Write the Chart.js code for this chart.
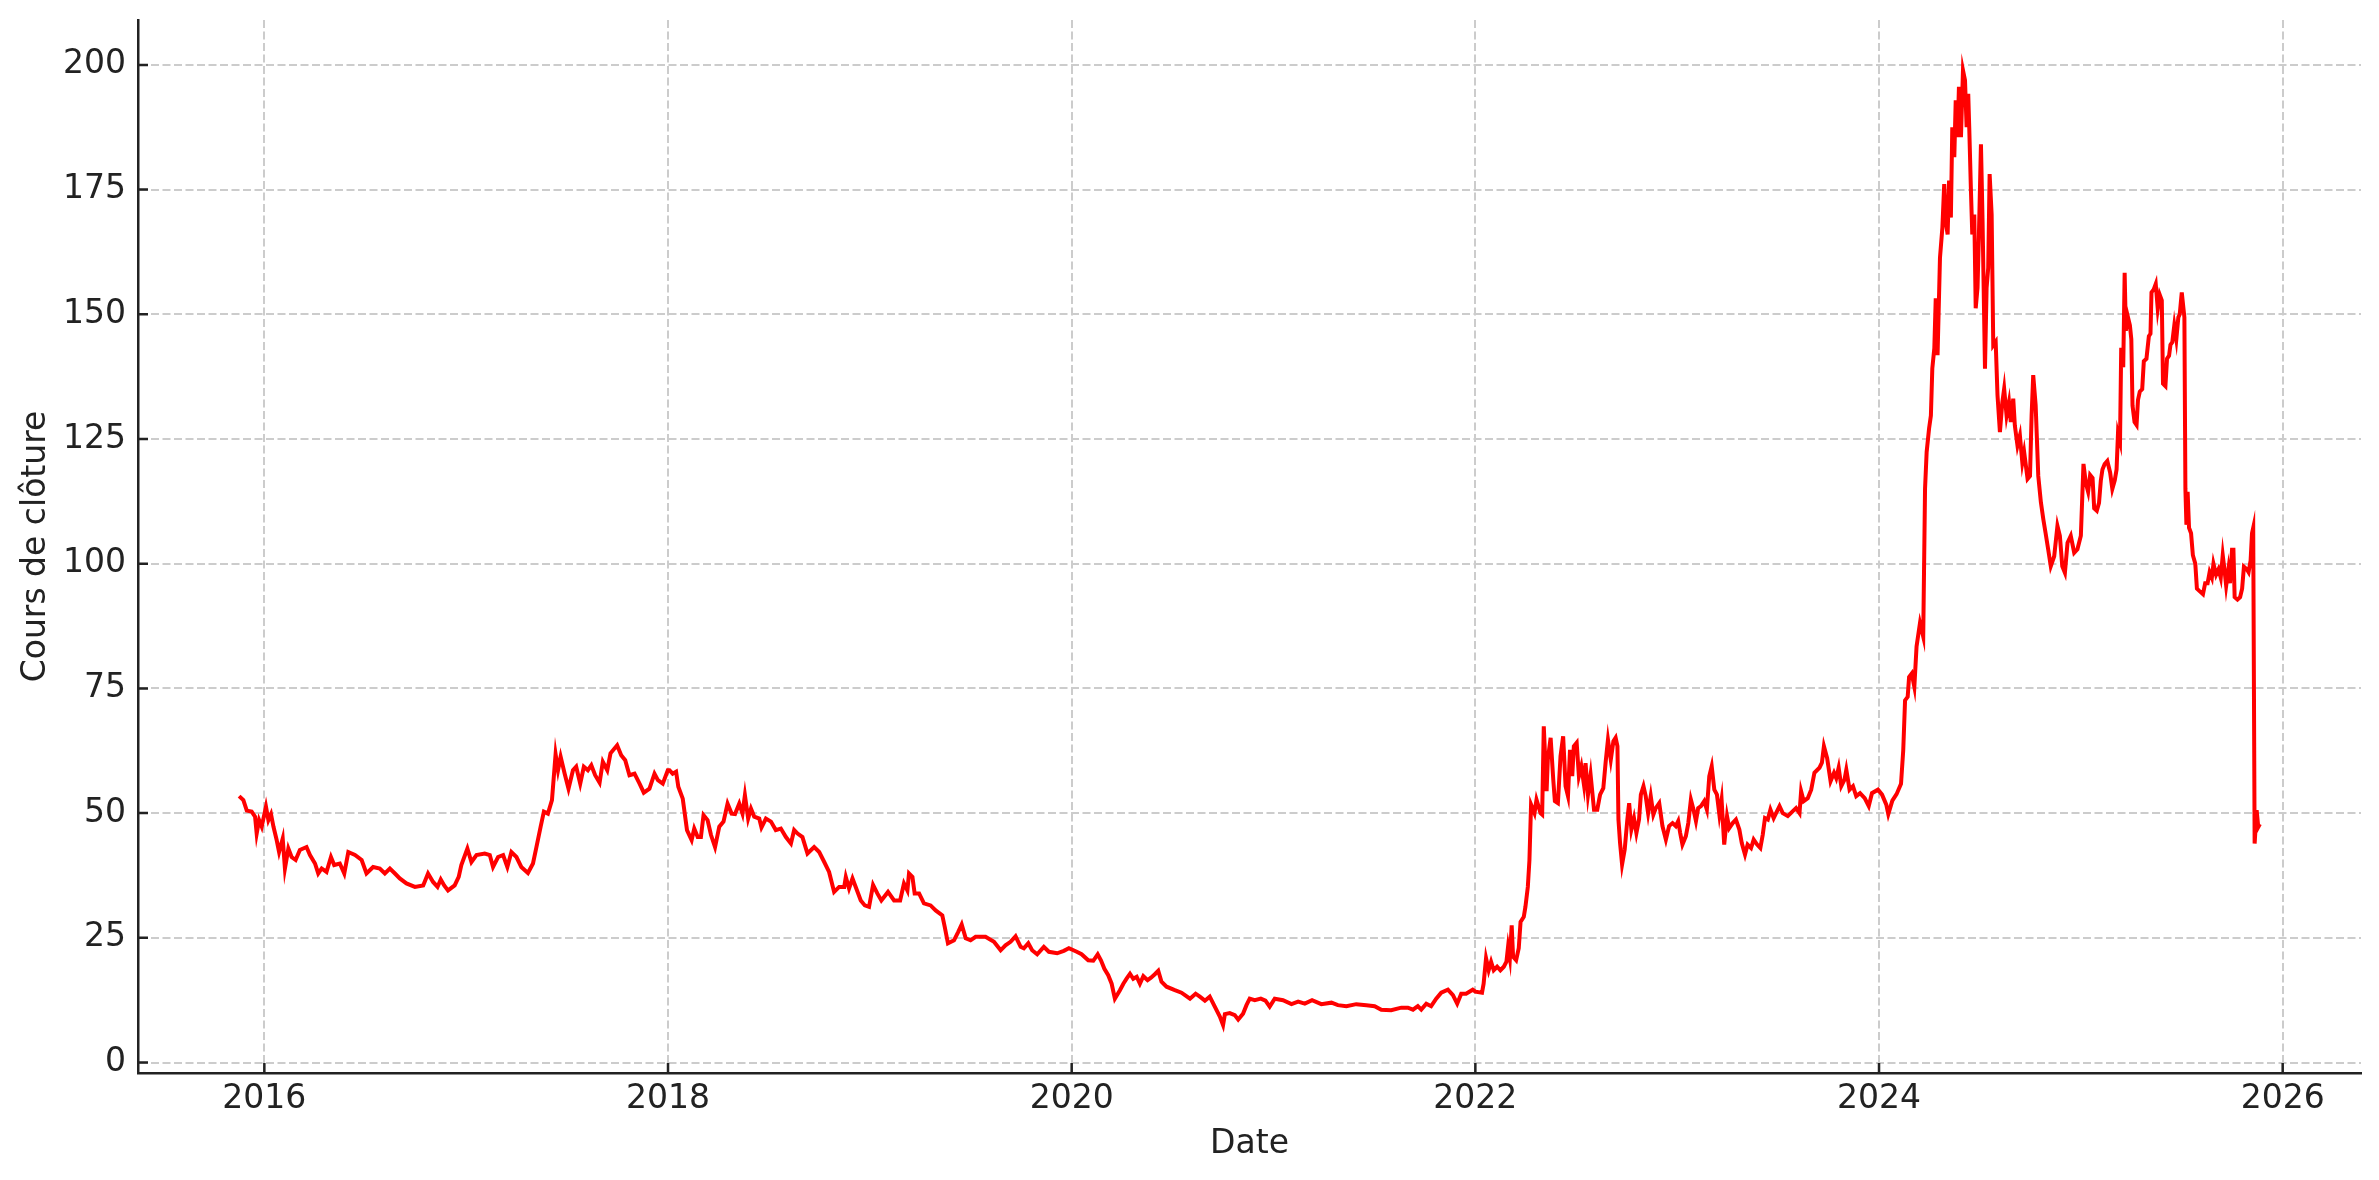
<!DOCTYPE html>
<html>
<head>
<meta charset="utf-8">
<script src="https://cdn.jsdelivr.net/npm/chart.js@4.4.1/dist/chart.umd.min.js"></script>
<style>
  html, body { margin: 0; padding: 0; background: #fff; }
  #wrap { width: 2379px; height: 1180px; }
</style>
</head>
<body>
<div id="wrap"><canvas id="chart"></canvas></div>
<script>
// dates as decimal years, closing price
const dates = [
  2015.875, 2015.896, 2015.913, 2015.937, 2015.954, 2015.962, 2015.974, 2015.987, 2016.008, 2016.020,
  2016.033, 2016.045, 2016.061, 2016.073, 2016.091, 2016.102, 2016.119, 2016.135, 2016.155, 2016.176,
  2016.209, 2016.226, 2016.251, 2016.267, 2016.284, 2016.308, 2016.330, 2016.346, 2016.374, 2016.396,
  2016.416, 2016.449, 2016.482, 2016.506, 2016.539, 2016.572, 2016.597, 2016.622, 2016.647, 2016.671,
  2016.704, 2016.746, 2016.787, 2016.811, 2016.836, 2016.858, 2016.874, 2016.891, 2016.910, 2016.943,
  2016.963, 2016.976, 2017.006, 2017.026, 2017.051, 2017.092, 2017.117, 2017.133, 2017.158, 2017.183,
  2017.204, 2017.224, 2017.249, 2017.273, 2017.306, 2017.331, 2017.348, 2017.369, 2017.385, 2017.405,
  2017.425, 2017.443, 2017.455, 2017.468, 2017.488, 2017.507, 2017.529, 2017.545, 2017.565, 2017.583,
  2017.603, 2017.620, 2017.639, 2017.661, 2017.677, 2017.699, 2017.715, 2017.748, 2017.768, 2017.788,
  2017.809, 2017.834, 2017.859, 2017.880, 2017.908, 2017.933, 2017.950, 2017.974, 2017.999,
  2018.007, 2018.023, 2018.040, 2018.051, 2018.073, 2018.094, 2018.117, 2018.130, 2018.147, 2018.163,
  2018.176, 2018.196, 2018.213, 2018.233, 2018.254, 2018.275, 2018.295, 2018.315, 2018.332, 2018.353,
  2018.369, 2018.381, 2018.397, 2018.411, 2018.427, 2018.452, 2018.463, 2018.485, 2018.510, 2018.534,
  2018.559, 2018.584, 2018.609, 2018.625, 2018.642, 2018.666, 2018.691, 2018.724, 2018.749, 2018.774,
  2018.798, 2018.823, 2018.848, 2018.873, 2018.881, 2018.897, 2018.914, 2018.930, 2018.955, 2018.975,
  2018.996, 2019.016, 2019.037, 2019.057, 2019.090, 2019.120, 2019.150, 2019.169, 2019.186, 2019.194,
  2019.211, 2019.222, 2019.244, 2019.268, 2019.301, 2019.326, 2019.359, 2019.371, 2019.387, 2019.417,
  2019.438, 2019.455, 2019.475, 2019.499, 2019.524, 2019.573, 2019.615, 2019.648, 2019.672, 2019.697,
  2019.722, 2019.747, 2019.763, 2019.785, 2019.804, 2019.829, 2019.862, 2019.887, 2019.928, 2019.961,
  2019.986,
  2020.025, 2020.049, 2020.082, 2020.107, 2020.129, 2020.145, 2020.162, 2020.181, 2020.198, 2020.214,
  2020.239, 2020.256, 2020.272, 2020.289, 2020.305, 2020.322, 2020.338, 2020.355, 2020.376, 2020.393,
  2020.412, 2020.429, 2020.445, 2020.470, 2020.511, 2020.544, 2020.586, 2020.614, 2020.635, 2020.660,
  2020.684, 2020.709, 2020.734, 2020.750, 2020.759, 2020.783, 2020.808, 2020.825, 2020.849, 2020.866,
  2020.882, 2020.907, 2020.937, 2020.960, 2020.981, 2021.006, 2021.047, 2021.089, 2021.122, 2021.155,
  2021.191, 2021.237, 2021.287, 2021.319, 2021.361, 2021.410, 2021.460, 2021.501, 2021.534, 2021.583,
  2021.633, 2021.666, 2021.691, 2021.715, 2021.732, 2021.757, 2021.781, 2021.806, 2021.831, 2021.864,
  2021.889, 2021.910, 2021.930, 2021.954, 2021.987,
  2022.000, 2022.033, 2022.041, 2022.053, 2022.066, 2022.078, 2022.091, 2022.108, 2022.124, 2022.141,
  2022.154, 2022.162, 2022.171, 2022.180, 2022.187, 2022.202, 2022.215, 2022.224, 2022.240, 2022.248,
  2022.260, 2022.268, 2022.276, 2022.293, 2022.303, 2022.323, 2022.331, 2022.339, 2022.353, 2022.359,
  2022.373, 2022.386, 2022.394, 2022.409, 2022.422, 2022.435, 2022.447, 2022.459, 2022.469, 2022.480,
  2022.488, 2022.502, 2022.513, 2022.525, 2022.538, 2022.546, 2022.558, 2022.571, 2022.588, 2022.604,
  2022.618, 2022.634, 2022.646, 2022.657, 2022.671, 2022.684, 2022.695, 2022.704, 2022.709, 2022.717,
  2022.727, 2022.740, 2022.753, 2022.762, 2022.773, 2022.786, 2022.798, 2022.811, 2022.820, 2022.833,
  2022.844, 2022.856, 2022.869, 2022.882, 2022.894, 2022.911, 2022.927, 2022.944, 2022.960, 2022.977,
  2022.993, 2023.005, 2023.015, 2023.026, 2023.043, 2023.055, 2023.068, 2023.081, 2023.093, 2023.104,
  2023.118, 2023.134, 2023.147, 2023.159, 2023.171, 2023.184, 2023.197, 2023.209, 2023.220, 2023.233,
  2023.247, 2023.258, 2023.275, 2023.291, 2023.308, 2023.320, 2023.336, 2023.349, 2023.366, 2023.379,
  2023.396, 2023.412, 2023.424, 2023.435, 2023.449, 2023.462, 2023.478, 2023.490, 2023.507, 2023.523,
  2023.548, 2023.573, 2023.589, 2023.606, 2023.614, 2023.627, 2023.647, 2023.664, 2023.680, 2023.705,
  2023.717, 2023.727, 2023.743, 2023.760, 2023.777, 2023.788, 2023.800, 2023.813, 2023.829, 2023.838,
  2023.854, 2023.871, 2023.887, 2023.906, 2023.929, 2023.949, 2023.965, 2023.995, 2024.015, 2024.036,
  2024.046, 2024.066, 2024.087, 2024.109, 2024.120, 2024.129, 2024.142, 2024.149, 2024.162, 2024.175,
  2024.186, 2024.203, 2024.219, 2024.228, 2024.236, 2024.248, 2024.257, 2024.264, 2024.274, 2024.281,
  2024.290, 2024.302, 2024.314, 2024.323, 2024.330, 2024.340, 2024.347, 2024.356, 2024.363, 2024.373,
  2024.380, 2024.389, 2024.396, 2024.406, 2024.416, 2024.426, 2024.434, 2024.442, 2024.447, 2024.455,
  2024.462, 2024.472, 2024.479, 2024.488, 2024.495, 2024.505, 2024.513, 2024.525, 2024.533, 2024.541,
  2024.548, 2024.558, 2024.566, 2024.578, 2024.587, 2024.599, 2024.611, 2024.620, 2024.632, 2024.644,
  2024.653, 2024.665, 2024.673, 2024.686, 2024.698, 2024.710, 2024.719, 2024.736, 2024.748, 2024.756,
  2024.764, 2024.776, 2024.789, 2024.802, 2024.814, 2024.825, 2024.838, 2024.851, 2024.868, 2024.884,
  2024.896, 2024.908, 2024.921, 2024.934, 2024.950, 2024.967, 2024.983, 2025.000,
  2025.013, 2025.025, 2025.036, 2025.046, 2025.058, 2025.066, 2025.079, 2025.090, 2025.099, 2025.107,
  2025.118, 2025.131, 2025.145, 2025.156, 2025.168, 2025.177, 2025.184, 2025.194, 2025.200, 2025.210,
  2025.217, 2025.223, 2025.233, 2025.243, 2025.250, 2025.256, 2025.266, 2025.276, 2025.283, 2025.292,
  2025.304, 2025.312, 2025.325, 2025.337, 2025.345, 2025.350, 2025.361, 2025.371, 2025.381, 2025.391,
  2025.401, 2025.407, 2025.419, 2025.427, 2025.437, 2025.444, 2025.453, 2025.463, 2025.473, 2025.483,
  2025.490, 2025.500, 2025.513, 2025.518, 2025.523, 2025.529, 2025.536, 2025.546, 2025.555, 2025.567,
  2025.575, 2025.588, 2025.605, 2025.616, 2025.628, 2025.638, 2025.649, 2025.657, 2025.670, 2025.682,
  2025.693, 2025.703, 2025.713, 2025.720, 2025.731, 2025.739, 2025.749, 2025.756, 2025.762, 2025.776,
  2025.789, 2025.799, 2025.808, 2025.822, 2025.831, 2025.841, 2025.848, 2025.854, 2025.861, 2025.871,
  2025.879, 2025.887
];

const closes = [
  53.4, 52.6, 50.5, 50.3, 49.3, 45.9, 48.6, 47.3, 51.3, 48.6,
  49.8, 47.3, 44.6, 42.2, 44.9, 38.9, 42.9, 41.2, 40.6, 42.6,
  43.2, 41.6, 39.9, 37.9, 38.9, 38.2, 41.2, 39.6, 39.9, 37.9,
  42.2, 41.6, 40.6, 37.9, 39.2, 38.9, 37.9, 38.9, 37.9, 36.9,
  35.9, 35.2, 35.5, 37.9, 36.2, 35.2, 36.7, 35.5, 34.5, 35.5,
  37.2, 39.6, 42.9, 40.2, 41.6, 41.9, 41.6, 39.2, 41.2, 41.6,
  39.2, 42.2, 41.2, 39.2, 38.0, 39.9, 43.2, 47.3, 50.3, 49.9,
  52.6, 61.8, 58.6, 61.3, 57.9, 54.9, 58.6, 59.3, 55.9, 59.3,
  58.6, 59.6, 57.6, 56.1, 60.3, 58.6, 62.0, 63.6, 61.6, 60.6,
  57.6, 57.9, 55.9, 54.1, 54.9, 57.9, 56.6, 55.9, 58.6,
  58.6, 57.9, 58.3, 55.3, 52.9, 46.6, 44.6, 46.9, 45.2, 45.2,
  49.6, 48.6, 45.6, 43.2, 47.3, 48.3, 51.9, 49.9, 49.8, 51.9,
  49.9, 53.6, 48.9, 50.9, 49.3, 48.9, 47.1, 48.9, 48.3, 46.6,
  46.9, 45.2, 43.9, 46.6, 45.9, 45.2, 41.9, 43.2, 42.2, 40.2,
  38.2, 34.2, 35.2, 35.2, 37.2, 34.9, 36.9, 35.2, 32.5, 31.5,
  31.2, 35.6, 33.9, 32.5, 34.2, 32.5, 32.5, 35.9, 34.5, 37.9,
  37.2, 33.9, 33.9, 31.9, 31.5, 30.5, 29.5, 27.2, 23.9, 24.5,
  26.2, 27.7, 24.9, 24.5, 25.2, 25.2, 24.2, 22.5, 23.5, 24.2,
  25.3, 23.2, 22.9, 23.9, 22.5, 21.7, 23.2, 22.2, 21.9, 22.4,
  22.9,
  22.2, 21.7, 20.5, 20.4, 21.7, 20.5, 18.8, 17.5, 15.8, 12.8,
  14.5, 15.8, 16.8, 17.8, 16.8, 17.2, 15.8, 17.3, 16.5, 17.0,
  17.7, 18.4, 16.2, 15.2, 14.5, 14.0, 12.8, 13.8, 13.2, 12.4,
  13.2, 11.2, 9.2, 7.5, 9.7, 9.9, 9.5, 8.6, 9.8, 11.5,
  12.8, 12.5, 12.8, 12.4, 11.2, 12.8, 12.5, 11.7, 12.2, 11.8,
  12.5, 11.7, 12.0, 11.5, 11.3, 11.7, 11.5, 11.3, 10.6, 10.5,
  11.0, 11.0, 10.6, 11.3, 10.6, 11.8, 11.3, 12.8, 14.0, 14.6,
  13.5, 11.8, 13.8, 13.8, 14.6,
  14.2, 14.0, 15.8, 20.9, 18.5, 20.2, 18.5, 19.2, 18.5, 19.2,
  20.2, 23.2, 20.9, 27.5, 21.2, 20.5, 22.9, 28.2, 29.2, 31.2,
  35.2, 40.6, 51.7, 50.0, 52.7, 50.0, 49.7, 67.4, 54.4, 60.7,
  65.1, 56.7, 52.4, 52.0, 61.4, 65.4, 55.4, 53.4, 62.7, 57.4,
  63.4, 64.1, 57.4, 59.4, 55.7, 60.0, 53.7, 57.7, 50.7, 50.7,
  53.7, 55.0, 60.4, 64.7, 60.7, 64.4, 65.1, 63.4, 48.7, 44.0,
  39.7, 42.7, 48.7, 52.0, 46.7, 49.0, 46.0, 48.7, 53.7, 55.4,
  53.4, 50.0, 53.4, 49.7, 51.0, 52.0, 47.4, 44.7, 47.4, 48.0,
  47.4, 48.4, 46.0, 43.7, 45.4, 48.0, 52.7, 50.7, 48.4, 51.0,
  51.4, 52.4, 50.7, 57.4, 59.4, 54.7, 53.7, 49.7, 52.7, 43.7,
  49.4, 47.0, 48.0, 48.7, 46.7, 44.0, 41.7, 43.7, 43.0, 44.7,
  43.7, 43.0, 45.7, 49.0, 48.7, 50.7, 49.0, 50.0, 51.4, 50.0,
  49.4, 50.4, 51.0, 50.0, 54.4, 52.4, 53.0, 54.7, 58.1, 59.1,
  60.1, 63.4, 61.0, 56.4, 58.1, 57.0, 59.1, 55.4, 56.7, 58.7,
  54.7, 55.4, 53.4, 54.0, 53.0, 51.4, 54.0, 54.7, 53.7, 51.7,
  49.8, 52.5, 53.8, 55.9, 62.6, 72.6, 73.3, 77.3, 78.0, 75.3,
  83.4, 88.1, 85.4, 115.0, 122.4, 127.1, 129.7, 139.1, 143.2, 153.2,
  141.8, 161.3, 167.4, 176.1, 168.7, 166.0, 176.8, 169.4, 187.5, 181.5,
  192.9, 185.5, 195.6, 185.5, 198.9, 196.9, 187.5, 194.2, 187.5, 175.4,
  166.0, 170.0, 151.2, 155.3, 166.0, 184.1, 168.7, 139.1, 155.3, 159.3,
  178.1, 170.0, 143.8, 144.5, 133.8, 126.4, 132.4, 135.1, 129.7, 132.4,
  128.4, 133.1, 127.7, 123.7, 125.7, 120.3, 122.4, 117.0, 117.6, 129.7,
  137.8, 131.8, 117.6, 112.3, 108.9, 106.2, 102.9, 99.5, 101.5, 107.6,
  105.6, 99.5, 98.2, 104.2, 105.6, 102.2, 102.9, 105.6,
  120.0, 116.1, 114.4, 117.8, 117.2, 111.1, 110.6, 112.2, 116.7, 118.9,
  120.0, 120.6, 118.3, 115.0, 116.7, 118.9, 126.1, 124.5, 143.3, 139.4,
  158.3, 146.7, 149.5, 147.8, 145.0, 131.7, 128.4, 127.8, 132.8, 134.5,
  135.0, 140.6, 141.1, 145.6, 146.1, 154.4, 155.0, 156.1, 151.1, 153.9,
  152.8, 136.1, 135.6, 141.1, 141.7, 143.9, 144.4, 147.8, 145.0, 149.4,
  150.0, 154.4, 149.4, 115.0, 107.8, 114.4, 107.2, 106.1, 101.7, 100.0,
  95.0, 94.5, 93.9, 96.1, 96.1, 98.3, 97.2, 100.0, 97.8, 98.9,
  97.2, 101.7, 98.3, 95.6, 98.9, 96.1, 102.8, 102.8, 93.3, 92.8,
  93.3, 95.0, 99.4, 98.9, 98.3, 100.6, 106.1, 107.2, 43.9, 50.6,
  47.2, 47.8
];

const xTicks = [2016, 2018, 2020, 2022, 2024, 2026];
const yTicks = [0, 25, 50, 75, 100, 125, 150, 175, 200];

const textColor = '#222222';
const gridColor = '#cccccc';
const fontFamily = "'DejaVu Sans', sans-serif";

// matplotlib style ticks pointing into the plot
const inwardTicks = {
    id: 'inwardTicks',
    afterDraw(chart) {
        const { ctx, chartArea, scales } = chart;
        ctx.save();
        ctx.strokeStyle = textColor;
        ctx.lineWidth = 2.5;
        ctx.beginPath();
        xTicks.forEach(v => {
            const px = scales.x.getPixelForValue(v);
            ctx.moveTo(px, chartArea.bottom);
            ctx.lineTo(px, chartArea.bottom - 10);
        });
        yTicks.forEach(v => {
            const py = scales.y.getPixelForValue(v);
            ctx.moveTo(chartArea.left, py);
            ctx.lineTo(chartArea.left + 10, py);
        });
        ctx.stroke();
        ctx.restore();
    }
};

new Chart(document.getElementById('chart'), {
    type: 'line',
    data: {
        datasets: [{
            label: 'Cours de clôture',
            data: dates.map((d, i) => ({ x: d, y: closes[i] })),
            borderColor: '#ff0000',
            borderWidth: 4,
            pointRadius: 0,
            tension: 0,
            fill: false
        }]
    },
    options: {
        responsive: true,
        maintainAspectRatio: false,
        animation: false,
        devicePixelRatio: 1,
        layout: { padding: { top: 20, right: 18, left: 0, bottom: 0 } },
        plugins: {
            legend: { display: false },
            tooltip: { enabled: false }
        },
        scales: {
            x: {
                type: 'linear',
                min: 2015.374,
                max: 2026.388,
                afterBuildTicks: (scale) => { scale.ticks = xTicks.map(v => ({ value: v })); },
                afterFit: (scale) => {
                    scale.height = 107;
                    scale.paddingLeft = 0;
                    scale.paddingRight = 0;
                },
                ticks: {
                    autoSkip: false,
                    maxRotation: 0,
                    padding: 7,
                    color: textColor,
                    font: { family: fontFamily, size: 33 },
                    callback: (v) => String(v)
                },
                grid: { color: gridColor, lineWidth: 2, drawTicks: false },
                border: { display: true, color: textColor, width: 2.5, dash: [8, 3.5] },
                title: {
                    display: true,
                    text: 'Date',
                    color: textColor,
                    font: { family: fontFamily, size: 33 },
                    padding: { top: 0, bottom: 16 }
                }
            },
            y: {
                type: 'linear',
                min: -2.1,
                max: 209,
                afterBuildTicks: (scale) => { scale.ticks = yTicks.map(v => ({ value: v })); },
                afterFit: (scale) => {
                    scale.width = 138;
                    scale.paddingTop = 0;
                    scale.paddingBottom = 0;
                },
                ticks: {
                    autoSkip: false,
                    padding: 12,
                    color: textColor,
                    font: { family: fontFamily, size: 33 },
                    callback: (v) => String(v)
                },
                grid: { color: gridColor, lineWidth: 2, drawTicks: false },
                border: { display: true, color: textColor, width: 2.5, dash: [8, 3.5] },
                title: {
                    display: true,
                    text: 'Cours de clôture',
                    color: textColor,
                    font: { family: fontFamily, size: 33 },
                    padding: { top: 17, bottom: 0 }
                }
            }
        }
    },
    plugins: [inwardTicks]
});
</script>
</body>
</html>
